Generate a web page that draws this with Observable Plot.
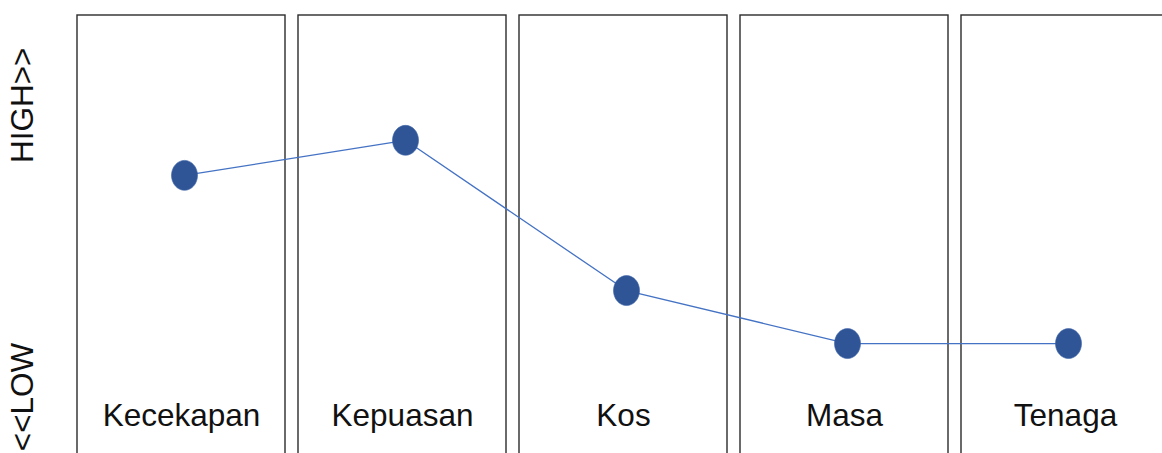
<!DOCTYPE html>
<html>
<head>
<meta charset="utf-8">
<script src="https://cdn.jsdelivr.net/npm/d3@7"></script>
<script src="https://cdn.jsdelivr.net/npm/@observablehq/plot@0.6"></script>
<style>
  html, body { margin: 0; padding: 0; background: #fff; overflow: hidden; }
  #chart svg { overflow: hidden; display: block; }
</style>
</head>
<body>
<div id="chart"></div>
<script>
// Categories and values (scale: 0 = LOW, 10 = HIGH)
const categories = ["Kecekapan", "Kepuasan", "Kos", "Masa", "Tenaga"];
const scores = [6.35, 7.15, 3.72, 2.51, 2.51];
const yTickValues = [9.27, 2.53];
const yTickLabels = ["HIGH>>", "<<LOW"];

const data = categories.map((c, i) => ({category: c, score: scores[i]}));
const ticks = yTickValues.map((v, i) => ({v, label: yTickLabels[i]}));

const font = "'Liberation Sans', Arial, sans-serif";

// slightly tall ellipse symbol, like the reference markers
const ellipse = {
  draw(ctx, size) {
    const r = Math.sqrt(size / Math.PI);
    const rx = r * 0.93, ry = r * 1.07, k = 0.5523;
    ctx.moveTo(rx, 0);
    ctx.bezierCurveTo(rx, ry * k, rx * k, ry, 0, ry);
    ctx.bezierCurveTo(-rx * k, ry, -rx, ry * k, -rx, 0);
    ctx.bezierCurveTo(-rx, -ry * k, -rx * k, -ry, 0, -ry);
    ctx.bezierCurveTo(rx * k, -ry, rx, -ry * k, rx, 0);
    ctx.closePath();
  }
};

const chart = Plot.plot({
  width: 1162,
  height: 453,
  marginLeft: 0,
  marginRight: 0,
  marginTop: 0,
  marginBottom: 0,
  style: {fontFamily: font, background: "#fff"},
  x: {domain: categories, range: [77, 1169], paddingInner: 0.06, paddingOuter: 0, axis: null},
  y: {domain: [0, 10], range: [453, 15], axis: null},
  marks: [
    Plot.barY(categories, {x: d => d, y1: 10, y2: -2, fill: "none", stroke: "#2b2b2b", strokeWidth: 1.4}),
    Plot.text(categories, {x: d => d, frameAnchor: "bottom", lineAnchor: "bottom", dy: -28, text: d => d, fontSize: 31.5, fill: "#111"}),
    Plot.line(data, {x: "category", y: "score", stroke: "#4472C4", strokeWidth: 1.3, dx: 3}),
    Plot.dot(data, {x: "category", y: "score", r: 14, symbol: ellipse, fill: "#2F5597", stroke: "#3a62a8", strokeWidth: 0.6, dx: 3}),
    Plot.text(ticks, {y: "v", text: "label", frameAnchor: "left", dx: 22, rotate: -90, textAnchor: "end", lineAnchor: "middle", fontSize: 31.5, fill: "#111"})
  ]
});
document.getElementById("chart").appendChild(chart);
</script>
</body>
</html>
